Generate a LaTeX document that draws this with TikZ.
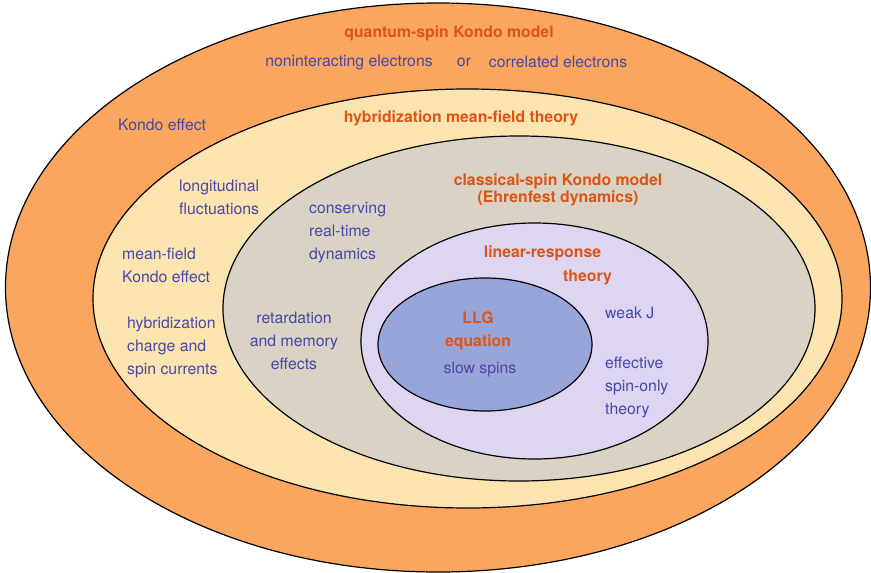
\documentclass[tikz,border=0pt]{standalone}
\usepackage{fontspec}
\setmainfont{TeX Gyre Heros}
\usetikzlibrary{shapes.geometric}
\definecolor{quantumfill}{RGB}{250,166,94}
\definecolor{meanfill}{RGB}{252,228,176}
\definecolor{classicalfill}{RGB}{218,210,196}
\definecolor{linearfill}{RGB}{221,213,242}
\definecolor{llgfill}{RGB}{151,165,216}
\definecolor{noteblue}{RGB}{72,72,168}
\definecolor{headorange}{RGB}{222,84,20}
\begin{document}
\begin{tikzpicture}[x=1pt,y=-1pt,
    region/.style={ellipse,draw=black,line width=1.2pt,inner sep=0pt},
    note/.style={text=noteblue,font=\fontsize{15.8}{23}\selectfont,inner sep=0pt},
    heading/.style={text=headorange,font=\fontsize{15.8}{23}\selectfont\bfseries,inner sep=0pt}]
  \useasboundingbox (0,0) rectangle (871,573);
  % nested regions
  \node [region,fill=quantumfill,minimum width=865pt,minimum height=569pt] (quantum) at (438,287.5) {};
  \node [region,fill=meanfill,minimum width=749pt,minimum height=419pt] (meanfield) at (467.5,298.5) {};
  \node [region,fill=classicalfill,minimum width=592pt,minimum height=345pt] (classical) at (519,308.5) {};
  \node [region,fill=linearfill,minimum width=347pt,minimum height=236pt] (linear) at (534.5,341) {};
  \node [region,fill=llgfill,minimum width=214pt,minimum height=133pt] (llg) at (485,344.5) {};
  % quantum-spin level
  \node [heading] (quantumhead) at (449,33) {quantum-spin Kondo model};
  \node [note] (nonint) at (349,62) {noninteracting electrons};
  \node [note] (or) at (464,62) {or};
  \node [note] (correl) at (558,62) {correlated electrons};
  \node [note,anchor=west] (kondo) at (118,125) {Kondo effect};
  % mean-field level
  \node [heading] (meanhead) at (461,118) {hybridization mean-field theory};
  \node [note,align=left,anchor=west] (longit) at (179,197.5) {longitudinal\\fluctuations};
  \node [note,align=left,anchor=west] (mfkondo) at (122,265.5) {mean-field\\Kondo effect};
  \node [note,align=left,anchor=west] (currents) at (127,347.5) {hybridization\\charge and\\spin currents};
  % classical-spin level
  \node [heading,align=center,font=\fontsize{15.8}{16.5}\selectfont\bfseries] (classhead) at (558,190) {classical-spin Kondo model\\(Ehrenfest dynamics)};
  \node [note,align=left,anchor=west] (conserv) at (309,232.5) {conserving\\real-time\\dynamics};
  \node [note,align=center] (retard) at (294,341) {retardation\\and memory\\effects};
  % linear-response level
  \node [heading] (linhead) at (542.5,253) {linear-response};
  \node [heading] (linhead2) at (587.5,277) {theory};
  \node [note,anchor=west] (weak) at (605,313) {weak J};
  \node [note,align=left,anchor=west] (spinonly) at (605,387) {effective\\spin-only\\theory};
  % LLG level
  \node [heading] (llghead) at (478,318) {LLG};
  \node [heading] (llghead2) at (478,342) {equation};
  \node [note] (slow) at (480,369) {slow spins};
\end{tikzpicture}
\end{document}
